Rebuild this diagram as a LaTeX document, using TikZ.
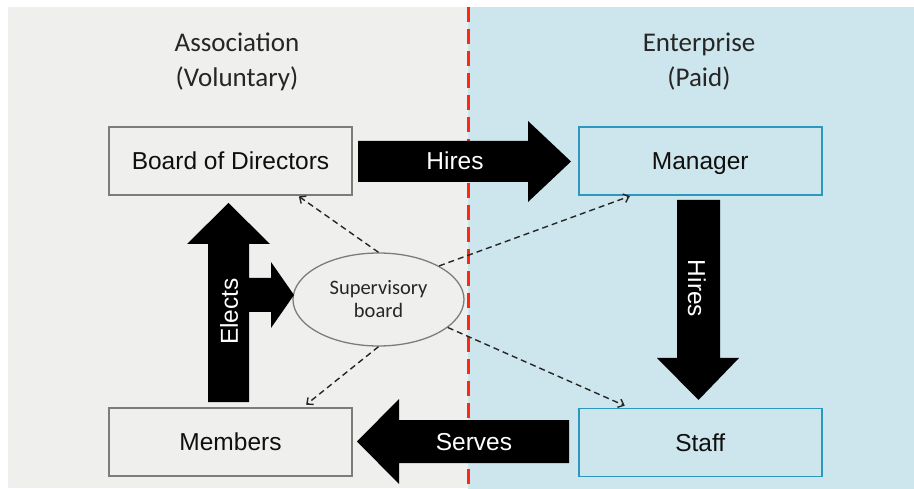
\documentclass[tikz,border=0pt]{standalone}
\usepackage{fontspec}
\setmainfont{Liberation Sans}
\newfontfamily\calibrifont{Carlito}
\usepackage{tikz}
\usepackage{xcolor}
\usetikzlibrary{arrows.meta}
\usetikzlibrary{shapes.geometric}

\begin{document}
\begin{tikzpicture}[x=1pt, y=-1pt,
		box/.style={draw, line width=1.6pt, minimum width=243pt, minimum height=68pt, inner sep=0pt,
			text height=17.6pt, text depth=0pt, text=ALMOST_BLACK, font=\fontsize{24.5}{29}\selectfont},
		title/.style={align=center, text=DARK_GRAY, font=\calibrifont\fontsize{27}{35}\selectfont},
		label/.style={text=WHITE, inner sep=0pt, font=\fontsize{24.5}{29}\selectfont},
		link/.style={draw=DARK_GRAY, line width=1.4pt, dash pattern=on 6pt off 4pt,
			-{Straight Barb[length=5pt, width=9pt]}}]
		\definecolor{WHITE}{RGB}{255, 255, 255}
		\definecolor{LIGHT_GRAY}{RGB}{239, 239, 238}
		\definecolor{LIGHT_BLUE}{RGB}{205, 229, 236}
		\definecolor{BORDER_GRAY}{RGB}{125, 125, 120}
		\definecolor{BORDER_BLUE}{RGB}{44, 152, 188}
		\definecolor{DARK_GRAY}{RGB}{38, 38, 38}
		\definecolor{ALMOST_BLACK}{RGB}{15, 15, 15}
		\definecolor{BLACK}{RGB}{0, 0, 0}
		\definecolor{RED}{RGB}{252, 40, 20}

		\useasboundingbox (0,0) rectangle (914,489);

		\begin{scope}
			\fill[LIGHT_GRAY] (8,7) rectangle (468,488);
			\fill[LIGHT_BLUE] (468,7) rectangle (914,489);
			\draw[RED, line width=3pt, dash pattern=on 15pt off 7pt] (468,7) -- (468,489);
		\end{scope}

		\node[title] (association) at (237,62) {Association\\(Voluntary)};
		\node[title] (enterprise) at (699,62) {Enterprise\\(Paid)};

		\node[box, draw=BORDER_GRAY] (board) at (230.5,161) {Board of Directors};
		\node[box, draw=BORDER_BLUE] (manager) at (700.3,161) {Manager};
		\node[box, draw=BORDER_GRAY] (members) at (230.5,442) {Members};
		\node[box, draw=BORDER_BLUE] (staff) at (700.3,442.5) {Staff};

		\node[ellipse, draw=BORDER_GRAY, line width=1.3pt, minimum width=171pt, minimum height=93pt,
			inner sep=0pt, align=center, text=DARK_GRAY, font=\calibrifont\fontsize{20.5}{23}\selectfont]
			(supervisory) at (378.5,299.5) {Supervisory\\board};

		\begin{scope}
			\fill[BLACK] (358,141) -- (528,141) -- (528,121) -- (571,161.5) -- (528,202) -- (528,182)
				-- (358,182) -- cycle;
			\fill[BLACK] (677,200) -- (720,200) -- (720,358) -- (739,358) -- (698.5,400) -- (657,358)
				-- (677,358) -- cycle;
			\fill[BLACK] (569,420) -- (399,420) -- (399,399) -- (357,441.5) -- (399,484) -- (399,463)
				-- (569,463) -- cycle;
			\fill[BLACK] (208,402) -- (208,244) -- (187,244) -- (228.5,203) -- (270,244) -- (249,244)
				-- (249,278) -- (271,278) -- (271,262) -- (294,295) -- (271,328) -- (271,312)
				-- (249,312) -- (249,402) -- cycle;
		\end{scope}

		\node[label] (hires board) at (455,161) {Hires};
		\node[label, rotate=-90] (hires manager) at (697,288.5) {Hires};
		\node[label] (serves) at (474,442) {Serves};
		\node[label, rotate=90] (elects) at (229,311.5) {Elects};

		\draw[link, shorten >=1pt] (supervisory.north) -- ([xshift=67.5pt]board.south);
		\draw[link, shorten >=1pt] (supervisory.29) -- ([xshift=-69.5pt]manager.south);
		\draw[link, shorten >=4pt] (supervisory.south) -- ([xshift=72.5pt]members.north);
		\draw[link, shorten >=5pt] (supervisory.-22) -- ([xshift=-71pt]staff.north);
	\end{tikzpicture}
\end{document}
